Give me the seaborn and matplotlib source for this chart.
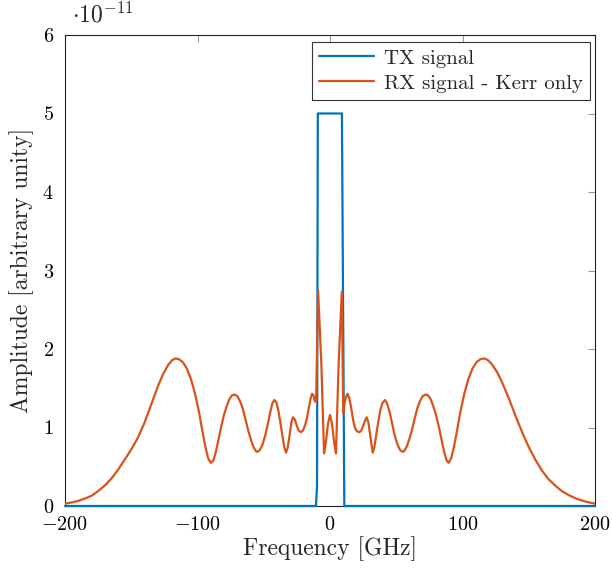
import matplotlib
matplotlib.use("Agg")
import matplotlib.pyplot as plt
import seaborn as sns
import pandas as pd

# TX signal (arbitrary units, x1e-11)
tx_freq = [-200, -10.6, -9.8, -9.2, 9.0, 10.8, 200]
tx_amp = [0, 0, 0.25, 5.0, 5.0, 0, 0]

# RX signal - Kerr only
rx_freq = [-200, -195, -190, -185, -180, -175, -170, -165, -160, -155, -150, -145,
           -140, -135, -130, -126, -122, -119, -116.5, -114, -111, -108, -105, -102,
           -99, -96.5, -94, -92, -90, -88, -86, -84, -82, -80, -78, -76, -74, -72,
           -70, -68, -66, -64, -62, -60, -58, -56, -55, -53, -51, -49, -47, -45,
           -43.5, -42, -40.5, -39, -37.5, -36, -34.5, -33.2, -32, -30.5, -29.2, -28,
           -26.5, -25, -23.5, -22, -20.5, -19, -17.5, -16, -14.5, -13.5, -12.5,
           -11.3, -10.5, -9.0, -6.5, -4.5, -3.2, -1.5, 0, 1.5, 3.2, 4.5, 6.5, 8.9,
           10.0, 11.5, 13.2, 14.5, 16, 17.6, 19, 20.5, 22.2, 23.5, 25, 26.5, 27.7,
           29, 30.5, 32.2, 33.5, 35, 36.5, 38, 39.5, 41.5, 43, 45, 47, 49, 51, 53,
           55, 56, 58, 60, 62, 64, 66, 68, 70, 72, 74, 76, 78, 80, 82, 84, 86, 88,
           89.5, 91.5, 93.5, 96, 98.5, 101.5, 104.5, 107.5, 110.5, 113.5, 116.5,
           119, 122, 126, 130, 135, 140, 145, 150, 155, 160, 165, 170, 175, 180,
           185, 190, 195, 200]
rx_amp = [0.03, 0.045, 0.065, 0.095, 0.13, 0.19, 0.26, 0.35, 0.46, 0.59, 0.72, 0.87,
          1.06, 1.29, 1.52, 1.68, 1.80, 1.86, 1.88, 1.87, 1.83, 1.75, 1.62, 1.44,
          1.21, 0.97, 0.75, 0.61, 0.55, 0.58, 0.70, 0.86, 1.02, 1.16, 1.27, 1.36,
          1.41, 1.42, 1.40, 1.34, 1.25, 1.12, 0.98, 0.86, 0.76, 0.70, 0.69, 0.71,
          0.78, 0.89, 1.04, 1.20, 1.31, 1.35, 1.32, 1.22, 1.07, 0.90, 0.75, 0.68,
          0.74, 0.90, 1.06, 1.13, 1.10, 1.02, 0.96, 0.94, 0.96, 1.02, 1.11, 1.25,
          1.38, 1.43, 1.41, 1.33, 1.33, 2.75, 1.80, 0.67, 0.80, 1.05, 1.16, 1.05,
          0.80, 0.67, 1.80, 2.73, 1.18, 1.36, 1.43, 1.38, 1.25, 1.08, 0.99, 0.95,
          0.94, 0.96, 1.02, 1.09, 1.13, 1.06, 0.88, 0.68, 0.75, 0.92, 1.08, 1.22,
          1.31, 1.35, 1.31, 1.20, 1.04, 0.89, 0.78, 0.71, 0.69, 0.70, 0.76, 0.86,
          0.98, 1.12, 1.25, 1.34, 1.40, 1.42, 1.41, 1.36, 1.27, 1.16, 1.02, 0.86,
          0.70, 0.58, 0.55, 0.61, 0.75, 0.97, 1.21, 1.44, 1.62, 1.75, 1.83, 1.87,
          1.88, 1.86, 1.81, 1.71, 1.57, 1.37, 1.15, 0.94, 0.75, 0.59, 0.45, 0.34,
          0.26, 0.19, 0.14, 0.10, 0.07, 0.048, 0.03]

x_ticks = [-200, -100, 0, 100, 200]
y_ticks = [0, 1, 2, 3, 4, 5, 6]

sns.set_theme(style="white")
plt.rcParams["font.family"] = ["serif"]
plt.rcParams["font.serif"] = ["cmr10", "DejaVu Serif"]
plt.rcParams["mathtext.fontset"] = "cm"
plt.rcParams["axes.formatter.use_mathtext"] = True

fig = plt.figure(figsize=(6.12, 5.72), dpi=100)
ax = fig.add_axes([65 / 612, 1 - 506 / 572, 530 / 612, 471 / 572])

df_tx = pd.DataFrame({"f": tx_freq, "a": tx_amp})
df_rx = pd.DataFrame({"f": rx_freq, "a": rx_amp})

blue = "#0072BD"
orange = "#D95319"
sns.lineplot(data=df_tx, x="f", y="a", color=blue, lw=1.6, ax=ax,
             label="TX signal", sort=False, estimator=None, clip_on=False, zorder=3)
sns.lineplot(data=df_rx, x="f", y="a", color=orange, lw=1.6, ax=ax,
             label="RX signal - Kerr only", sort=False, estimator=None, zorder=4)

ax.set_xlim(-200, 200)
ax.set_ylim(0, 6)
ax.set_xticks(x_ticks)
ax.set_xticklabels([f"${v}$" if v >= 0 else f"$-{abs(v)}$" for v in x_ticks])
ax.set_yticks(y_ticks)
ax.set_yticklabels([f"${v}$" for v in y_ticks])
ax.tick_params(axis="both", direction="in", length=5, width=0.8, color="#999999",
               labelsize=14.5, top=True, right=True, pad=7, labelcolor="black")
ax.tick_params(axis="y", pad=8)
for sp in ax.spines.values():
    sp.set_color("#222222")
    sp.set_linewidth(0.8)

ax.set_xlabel("Frequency [GHz]", fontsize=17, labelpad=2)
ax.set_ylabel("Amplitude [arbitrary unity]", fontsize=17, labelpad=6)

fig.text(72 / 612, 1 - 15 / 572, r"$\cdot10^{-11}$", fontsize=17, va="center", ha="left")

leg = ax.legend(loc="upper right", bbox_to_anchor=(0.995, 0.99), frameon=True,
                fancybox=False, edgecolor="black", fontsize=15, handlelength=2.6,
                borderpad=0.35, labelspacing=0.3, handletextpad=0.5, borderaxespad=0.1)
leg.get_frame().set_linewidth(0.8)

fig.savefig("out.png", dpi=100)
